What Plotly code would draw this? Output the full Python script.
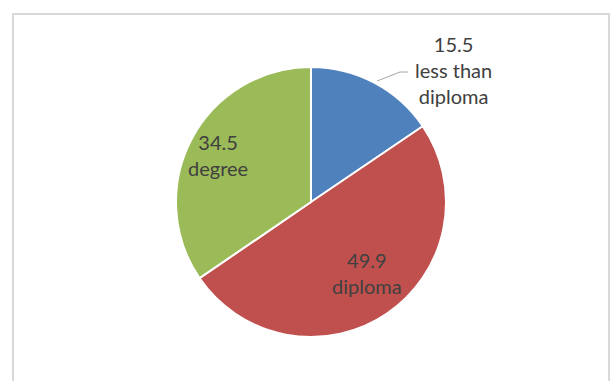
import plotly.graph_objects as go

# Education level shares
categories = ["less than diploma", "diploma", "degree"]
shares = [15.5, 49.9, 34.5]
slice_colors = ["#4F81BD", "#C0504D", "#9BBB59"]

W, H = 611, 381


def px(x):
    return x / W


def py(y):
    return 1 - y / H


# pie disc: centre (311, 202), radius 135 px
cx, cy, r = 311, 202, 135

fig = go.Figure(
    go.Pie(
        labels=categories,
        values=shares,
        sort=False,
        direction="clockwise",
        rotation=0,
        marker=dict(colors=slice_colors, line=dict(color="white", width=2)),
        textinfo="none",
        hoverinfo="label+value",
        showlegend=False,
        domain=dict(x=[px(cx - r), px(cx + r)], y=[py(cy + r), py(cy - r)]),
    )
)

# label anchor points (pixel centres) for each slice
label_pos = {
    "less than diploma": (453, 70),
    "diploma": (367, 273),
    "degree": (218, 155),
}
label_text = {
    "less than diploma": "less than<br>diploma",
    "diploma": "diploma",
    "degree": "degree",
}

annotations = []
for cat, val in zip(categories, shares):
    x, y = label_pos[cat]
    annotations.append(
        dict(
            x=px(x), y=py(y), xref="paper", yref="paper",
            text=f"{val}<br>{label_text[cat]}",
            showarrow=False, xanchor="center", yanchor="middle",
            font=dict(family="Lato", size=20, color="#404040"),
        )
    )

shapes = [
    # chart frame
    dict(type="rect", xref="paper", yref="paper",
         x0=px(13), x1=px(609), y0=py(385), y1=py(14),
         line=dict(color="#D9D9D9", width=2), fillcolor="rgba(0,0,0,0)"),
    # leader line to the outside label
    dict(type="path", xref="paper", yref="paper",
         path=f"M {px(377)},{py(81)} L {px(400)},{py(72)} L {px(408)},{py(72)}",
         line=dict(color="#A6A6A6", width=1)),
]

fig.update_layout(
    width=W, height=H,
    margin=dict(l=0, r=0, t=0, b=0),
    paper_bgcolor="white",
    plot_bgcolor="white",
    annotations=annotations,
    shapes=shapes,
)

fig.write_html("out.html")
